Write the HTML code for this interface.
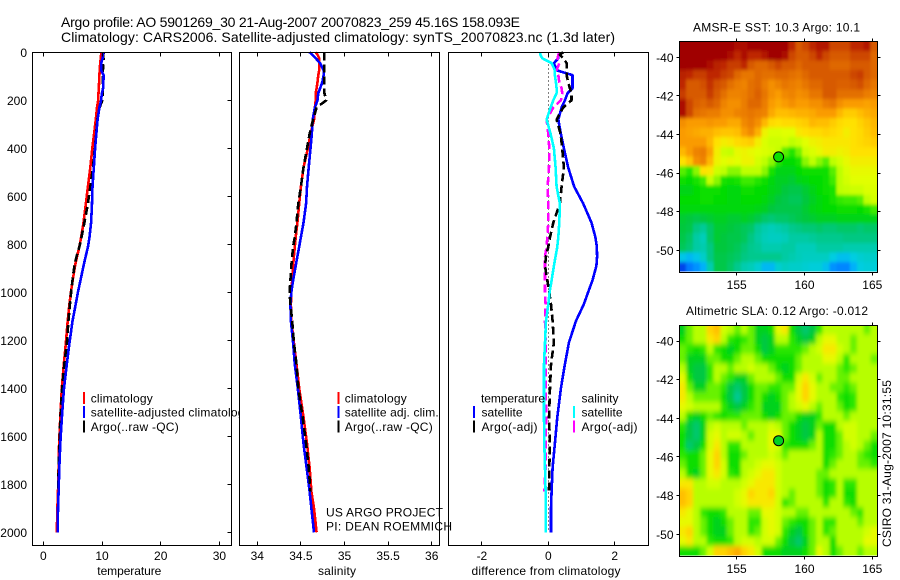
<!DOCTYPE html>
<html>
<head>
<meta charset="utf-8">
<title>Argo profile 5901269_30</title>
<style>
html,body{margin:0;padding:0;background:#fff;width:900px;height:580px;overflow:hidden}
svg{display:block}
text{font-family:"Liberation Sans",sans-serif;font-size:12px;fill:#000}
.title{font-size:14px}
</style>
</head>
<body>
<svg id="chart" xmlns="http://www.w3.org/2000/svg" width="900" height="580" viewBox="0 0 900 580">
<defs>
<filter id="sstSmooth" filterUnits="userSpaceOnUse" x="640" y="0" width="260" height="310"><feGaussianBlur stdDeviation="1.3 1.8"/></filter>
<filter id="slaSmooth" filterUnits="userSpaceOnUse" x="640" y="290" width="260" height="290"><feGaussianBlur stdDeviation="1.9 2.7"/></filter>
<clipPath id="sstClip"><rect x="679.5" y="41.5" width="198" height="230"/></clipPath>
<clipPath id="slaClip"><rect x="679.5" y="325.5" width="198" height="230"/></clipPath>
</defs>
<rect x="0" y="0" width="900" height="580" fill="#fff"/>
<text class="title" x="61" y="27" textLength="459" lengthAdjust="spacing">Argo profile: AO 5901269_30 21-Aug-2007 20070823_259 45.16S 158.093E</text>
<text class="title" x="61" y="42" textLength="554" lengthAdjust="spacing">Climatology: CARS2006. Satellite-adjusted climatology: synTS_20070823.nc (1.3d later)</text>
</svg>
<script>
var depths = [0,10,25,45,75,95,125,150,170,200,230,280,340,400,480,560,630,710,770,810,850,890,950,1000,1050,1120,1210,1300,1400,1520,1630,1730,1830,1900,2000];
var climT = [9.85,9.85,9.8,9.7,9.6,9.55,9.5,9.45,9.4,9.35,9.15,8.95,8.65,8.35,8,7.6,7.25,6.85,6.45,6.15,5.75,5.4,5,4.7,4.45,4.15,3.85,3.5,3.15,2.9,2.7,2.6,2.5,2.4,2.3];
var satT = [10.2,10.15,10.1,9.87,9.85,10.28,10.23,10.18,9.98,9.85,9.55,9.25,9.03,8.82,8.6,8.38,8.3,8.15,7.87,7.61,7.22,6.85,6.33,5.9,5.52,4.98,4.47,4,3.53,3.17,2.9,2.73,2.6,2.5,2.45];
var argoT = [10.3,10.2,10.25,10.25,10.15,10.1,10.1,10.1,10.1,10.05,9.6,9.2,9.02,8.77,8.47,8,7.6,7,6.5,6.15,5.68,5.3,4.97,4.73,4.53,4.28,4.02,3.58,3.2,2.92,2.75,2.63,2.52,null,null];
var climS = [34.67,34.69,34.71,34.71,34.71,34.7,34.69,34.68,34.67,34.67,34.66,34.65,34.61,34.58,34.53,34.5,34.48,34.46,34.44,34.43,34.42,34.41,34.4,34.39,34.385,34.39,34.42,34.45,34.48,34.53,34.57,34.6,34.62,34.65,34.68];
var satS = [34.6,34.63,34.67,34.72,34.76,34.76,34.745,34.72,34.7,34.69,34.66,34.635,34.625,34.61,34.59,34.57,34.56,34.53,34.5,34.48,34.46,34.44,34.41,34.39,34.38,34.385,34.41,34.43,34.465,34.5,34.53,34.565,34.6,34.62,34.65];
var argoS = [34.77,34.77,34.77,34.77,34.77,34.77,34.77,34.77,34.77,34.79,34.68,34.64,34.6,34.57,34.53,34.5,34.47,34.45,34.43,34.41,34.4,34.39,34.38,34.37,34.38,34.4,34.42,34.45,34.47,34.52,34.56,34.59,34.61,null,null];
var diffSatT = [0.35,0.3,0.3,0.17,0.25,0.73,0.73,0.73,0.58,0.5,0.4,0.3,0.38,0.47,0.6,0.78,1.05,1.3,1.42,1.46,1.47,1.45,1.33,1.2,1.07,0.83,0.62,0.5,0.38,0.27,0.2,0.13,0.1,0.08,0.08];
var diffArgoT = [0.45,0.35,0.45,0.55,0.55,0.55,0.6,0.65,0.7,0.7,0.45,0.25,0.37,0.42,0.47,0.4,0.35,0.15,0.05,0,-0.07,-0.1,-0.03,0.03,0.08,0.13,0.17,0.08,0.05,0.02,0.05,0.03,0.02,null,null];
var diffSatS = [-0.25,-0.24,-0.18,0.1,0.2,0.2,0.23,0.25,0.25,0.15,0.07,-0.05,0.07,0.17,0.22,0.25,0.35,0.33,0.3,0.27,0.22,0.17,0.1,0.04,0,-0.07,-0.1,-0.13,-0.13,-0.13,-0.12,-0.1,-0.08,-0.08,-0.08];
var diffArgoS = [0.35,0.3,0.28,0.33,0.25,0.3,0.33,0.4,0.42,0.38,0.15,-0.05,0,0.03,0.02,-0.02,0,0,-0.03,-0.05,-0.1,-0.1,-0.1,-0.1,-0.08,-0.1,-0.08,-0.08,-0.08,-0.06,-0.08,-0.08,-0.12,null,null];
var depthTicks = [0,200,400,600,800,1000,1200,1400,1600,1800,2000];
var tempTicks = [0,10,20,30];
var salTicks = [34,34.5,35,35.5,36];
var diffTicks = [-2,0,2];
var lonTicks = [155,160,165];
var latTicks = [-40,-42,-44,-46,-48,-50];
var argoLon = 158.093;
var argoLat = -45.16;
var argoSST = 10.1;
var argoSLAcm = -1.2;
var sstGrid = [
[15,15,15,15,15,15,15,15,14.8,14.8,15,15,15,15,15,15,14.5,14,14.2,14.5,14.7,14.7,14.2,14.2,14.2,14.5,14.5,14.7,14],
[15,15,15,15,15,15,15,14.8,14.5,14.8,14.5,14.5,14.7,15,15,14.8,14.2,14,14,14.2,14.5,14.2,14,14,14,14.2,14.2,14.2,13.8],
[15,15,15,15,14.8,14.6,14.5,14.3,14.3,14.5,14,13.8,13.8,14,14.2,14,14,13.8,14,14,14,14,13.8,13.8,13.8,14,14,14,13.8],
[14.6,14.5,14.3,14.3,14.5,14.5,14.3,14.2,13.8,13.6,13.6,13.8,13.7,13.7,13.8,13.8,13.7,13.6,13.8,14,14,14,14,14,14,14.2,14.3,14,13.8],
[14.5,14,14,14.1,14.4,14.1,14,13.7,13.5,13.4,13.7,13.8,13.5,13.2,13.4,13.6,13.5,13.4,13.6,13.8,13.8,14,14,13.9,13.9,14,14.1,13.8,13.6],
[14.3,14,14,14,14.3,14,13.7,13.4,13.4,13.5,13.7,13.9,13.6,13.2,13,13.3,13.4,13.2,13.3,13.6,13.6,14,14,13.7,13.7,13.7,13.7,13.5,13.4],
[14.8,14.2,13.9,13.8,14,13.8,13.4,13.2,13.2,13.5,13.8,13.8,13.5,13,12.8,13,13.2,13,13,13.2,13.2,13.5,13.6,13.2,13,13,13,12.9,13],
[14.8,14.2,13.7,13.6,13.5,13.5,13.2,13.2,13.4,13.5,13.6,13.5,13.4,12.8,12.5,12.5,12.6,12.7,12.7,12.8,13,13,13,12.6,12.3,12.3,12.5,12.7,12.8],
[13.2,13,13,13,13.1,13,13,12.8,12.8,13.3,13.5,13.2,12.6,12.1,12,12.1,12.1,12.2,12.3,12.6,12.5,12.5,12.3,12.1,12,12,12.2,12.4,12.6],
[13,12.9,12.8,12.7,12.7,12.5,12.4,12.4,12.5,13,13.3,12.7,11.7,11.4,11.4,11.5,11.5,11.9,12,12.1,12.1,12.2,12.1,12,11.8,12,12.1,12.3,12.5],
[13,13,13,13,12.6,12,11.8,11.9,12.1,12.2,12.3,11.8,11.4,11.2,11.2,11.3,11,11.2,11.5,11.7,11.8,11.9,11.9,11.9,11.9,12,12.1,12.2,12.3],
[12.6,13,13.4,13.5,12.9,11.8,11.2,11.1,11.6,11.7,11.6,11.5,11.4,11.3,11.1,10.6,10.3,10.7,11.2,11.4,11.6,11.8,11.8,11.7,11.8,12,12,12,12],
[12,12.4,13.2,13.4,12.6,11.7,11.5,11.6,11.5,11.7,11.7,11.3,11,10.8,10.3,10,10,10.2,10.8,11,10.8,10.6,11,11.3,11.6,11.8,11.8,11.8,11.8],
[10.6,10.3,10.8,12,11.9,11.2,11,10.8,10.8,11,11,11,10.8,10.2,9.8,9.8,9.8,10,10.1,10.1,10.1,10.1,10.6,11,11.4,11.6,11.6,11.6,11.6],
[10.1,10,10.2,10.5,11.1,10.8,10.2,10.1,10.2,10.5,10.5,10.3,10.1,9.9,9.7,9.7,9.6,9.8,9.9,10,10,10.1,10.5,11,11.3,11.5,11.5,11.5,11.5],
[9.8,9.8,10,10.1,10.1,10.1,10,9.9,9.9,10.1,10.1,10,10,9.8,9.7,9.5,9.4,9.4,9.6,9.8,10,10.1,10.2,11,11.1,11.2,11.2,11.4,11.4],
[10,10,10,10.1,10.1,10,10,9.9,9.9,10,10,10,9.9,9.7,9.5,9.4,9.3,9.3,9.5,9.7,9.9,10,10.2,10.4,10.5,10.5,10.6,11,11.3],
[9.9,9.9,9.9,9.9,9.9,9.9,9.9,9.9,9.9,9.9,9.9,9.8,9.7,9.5,9.4,9.4,9.4,9.4,9.6,9.8,9.9,10,10,10.1,10.1,10.1,10,10.2,10.5],
[9.6,9.5,9.4,9.5,9.6,9.7,9.7,9.6,9.6,9.7,9.6,9.4,9.2,9.1,9.2,9.2,9.3,9.4,9.5,9.6,9.7,9.7,9.7,9.8,9.8,9.8,9.8,9.8,9.8],
[9.5,9.4,9,8.8,9.2,9.6,9.6,9.5,9.4,9.3,9.2,8.8,8.6,8.5,8.6,8.7,8.9,9,9.1,9.1,9.2,9.1,9.1,9.2,9.2,9.2,9.1,9.2,9.2],
[9.4,9.2,8.7,8.5,9.2,9.6,9.5,9.4,9.4,9.3,9,8.7,8.5,8.4,8.4,8.5,8.7,8.7,8.7,8.8,8.9,8.9,8.9,8.9,9,9,9,9,9],
[9.3,9.1,8.7,8.6,9,9.5,9.5,9.4,9.3,9.1,8.9,8.8,8.6,8.6,8.6,8.7,8.7,8.5,8.5,8.5,8.7,8.7,8.7,8.7,8.6,8.6,8.6,8.6,8.6],
[7.9,7.7,7.9,8.3,9,9.4,9.4,9.3,9.2,9,8.9,8.9,8.9,8.9,8.9,8.7,8.6,8.5,8.4,8.4,8.4,8.4,8,7.8,7.8,8,8.2,8.3,8.3],
[6.7,7.1,7.3,7.6,8.6,9.4,9.4,9.2,8.9,8.6,8.5,8.2,7.7,7.7,8.2,8.4,8.3,8.3,8.2,8.1,8.1,7.8,7.3,7.2,7.2,7.6,8,8.1,8.1]
];
var slaGrid = [
[-1,2,3,3,7,8,4,3,2,3,2,-1,-1,0,5,6,0,-2,-3,-2,1,3,3,3,3,3,3,2,3],
[0,2,3,3,6,7,3,1,0,1,2,-1,-2,-1,3,3,1,-1,-2,-1,3,5,5,3,3,2,3,3,3],
[2,1,0,1,3,1,0,-1,0,2,2,0,-2,-1,1,1,1,1,2,3,4,6,6,4,3,2,3,3,3],
[2,-1,-1,-1,2,2,0,0,2,3,3,2,0,0,0,0,0,2,3,3,3,5,5,3,1,3,3,3,2],
[3,-1,-2,-2,1,3,3,2,3,3,4,3,3,2,0,-1,0,2,3,3,3,3,3,2,1,2,3,3,3],
[5,0,-2,-2,1,3,2,1,-1,-1,2,3,3,3,2,0,0,4,6,4,2,3,3,2,2,3,3,3,3],
[6,2,-1,-1,2,2,1,-2,-3,-2,0,2,2,1,1,2,2,5,7,5,3,3,2,2,1,2,3,3,3],
[6,3,2,2,2,2,0,-2,-4,-2,0,2,0,-1,0,2,3,5,7,5,3,3,3,1,0,1,3,3,3],
[5,4,3,3,3,3,1,-1,-2,-1,1,2,-1,-1,-1,2,3,4,5,3,2,3,3,2,0,1,3,3,3],
[3,0,-1,0,2,1,0,1,1,2,2,2,0,-1,0,2,2,0,-1,-1,1,3,3,3,2,3,3,3,3],
[1,-2,-3,-1,3,4,3,3,3,2,3,3,3,4,3,2,0,-1,-2,-1,2,0,0,3,4,4,3,3,3],
[0,-2,-3,-1,4,5,3,4,4,3,2,3,3,5,5,2,0,-1,-2,-1,3,0,0,2,4,4,3,3,2],
[0,-3,-2,0,4,6,3,1,1,3,3,3,3,5,4,1,0,0,0,2,3,0,0,2,3,4,3,2,0],
[1,0,0,2,5,7,3,0,0,2,3,3,3,4,3,2,3,3,3,3,3,0,1,2,3,3,2,1,0],
[2,0,0,2,5,7,4,0,0,3,3,4,5,5,4,3,3,3,3,3,3,0,2,3,3,3,2,2,1],
[3,0,-1,2,5,6,4,1,0,3,4,5,6,6,4,3,3,3,3,3,2,2,3,3,3,3,3,3,3],
[6,6,3,3,4,4,3,3,3,4,5,6,6,6,4,3,3,3,3,3,2,0,1,3,1,1,3,3,3],
[8,7,3,3,3,3,3,3,4,5,7,6,6,7,4,3,2,3,3,3,2,0,1,3,0,0,3,3,3],
[8,7,3,3,3,3,3,3,4,5,6,6,6,6,4,1,2,3,3,3,3,1,3,3,1,0,3,3,3],
[6,5,3,1,0,0,1,3,3,3,2,2,5,5,4,3,3,2,2,3,3,3,3,3,3,2,1,3,3],
[5,5,3,2,0,-1,0,2,3,3,1,1,4,5,4,2,1,0,0,2,3,1,1,3,3,3,2,3,3],
[6,7,3,2,0,-1,-1,2,3,3,1,2,4,5,4,1,-1,-2,0,2,3,1,2,3,3,3,3,4,5],
[5,6,3,3,1,0,0,1,3,4,4,3,4,4,2,0,-2,-3,-1,2,3,3,0,3,3,3,3,5,5],
[0,0,0,2,4,7,7,8,9,7,6,4,0,0,0,-1,-1,-1,0,2,5,3,0,2,3,3,2,3,3]
];

var svg = document.getElementById('chart');
var NS = 'http://www.w3.org/2000/svg';
function mk(tag, attrs, parent) {
  var e = document.createElementNS(NS, tag);
  for (var k in attrs) { e.setAttribute(k, attrs[k]); }
  (parent || svg).appendChild(e);
  return e;
}
function label(str, x, y, anchor, parent) {
  var e = mk('text', {x: x, y: y, 'text-anchor': anchor || 'start'}, parent);
  e.textContent = str;
  return e;
}
function depthY(d) { return 52.3 + d * 0.24; }
function tempX(t) { return 43.3 + t * 5.87; }
function salX(s) { return 257.3 + (s - 34) * 87.2; }
function diffX(v) { return 548.3 + v * 33.2; }
function lonX(lon) { return 736.7 + (lon - 155) * 13.56; }
function lat1Y(lat) { return 57.3 + (-40 - lat) * 19.3; }
function lat2Y(lat) { return 341 + (-40 - lat) * 19.33; }
function snap(v) { return Math.floor(v) + 0.5; }

function frame(left, right, top, bottom, name) {
  var bg = mk('rect', {x: left, y: top, width: right - left, height: bottom - top, fill: '#fff'});
  
  
}
function border(left, right, top, bottom, name) {
  var b = mk('rect', {x: left, y: top, width: right - left, height: bottom - top, fill: 'none', stroke: '#000', 'stroke-width': 1, 'shape-rendering': 'crispEdges'});
  
  
}
function tickLine(x1, y1, x2, y2) {
  var t = mk('line', {x1: x1, y1: y1, x2: x2, y2: y2, stroke: '#000', 'stroke-width': 1, 'shape-rendering': 'crispEdges'});
  
  
}
function xAxis(ticks, scale, top, bottom) {
  ticks.forEach(function (v) {
    var x = snap(scale(v));
    tickLine(x, top, x, top + 4);
    tickLine(x, bottom, x, bottom - 4);
    var l = label(String(v), scale(v), 560, 'middle');
    
    
  });
}
function series(vals, scale, color, dash, name) {
  var pts = [];
  depths.forEach(function (d, i) {
    if (vals[i] !== null) { pts.push(scale(vals[i]).toFixed(1) + ',' + depthY(d).toFixed(1)); }
  });
  var attrs = {points: pts.join(' '), fill: 'none', stroke: color, 'stroke-width': 2.6, 'shape-rendering': 'crispEdges', 'stroke-linejoin': 'round'};
  if (dash) { attrs['stroke-dasharray'] = dash; }
  var p = mk('polyline', attrs);
  
  
}
function legendEntry(markX, textX, y, color, str, width) {
  if (color) {
    var m = mk('rect', {x: markX, y: y - 6, width: 2, height: 12, fill: color, 'shape-rendering': 'crispEdges'});
    
    
  }
  var t = label(str, textX, y + 4.5);
  t.setAttribute('textLength', width);
  
  
}

/* temperature panel */
frame(32.5, 231.5, 52.5, 545.5, 'temperature-panel');
series(climT, tempX, '#f00', null, 'temperature-climatology-line');
series(argoT, tempX, '#000', '8 4', 'temperature-argo-line');
series(satT, tempX, '#00f', null, 'temperature-satellite-line');
legendEntry(83, 90.7, 398, '#f00', 'climatology', 62);
legendEntry(83, 90.7, 412, '#00f', 'satellite-adjusted climatology', 160);
legendEntry(83, 90.7, 426.5, '#000', 'Argo(..raw -QC)', 88);
xAxis(tempTicks, tempX, 52.5, 545.5);
depthTicks.forEach(function (d) {
  var y = snap(depthY(d));
  tickLine(231.5, y, 227.5, y);
  var l = label(String(d), 27, depthY(d) + 4.5, 'end');
  
  
});
border(32.5, 231.5, 52.5, 545.5, 'temperature-panel');
var xl1 = label('temperature', 129.3, 575, 'middle');
xl1.setAttribute('textLength', '64');



/* salinity panel */
frame(239.5, 439.5, 52.5, 545.5, 'salinity-panel');
series(climS, salX, '#f00', null, 'salinity-climatology-line');
series(satS, salX, '#00f', null, 'salinity-satellite-line');
series(argoS, salX, '#000', '8 4', 'salinity-argo-line');
legendEntry(337.5, 344.7, 398, '#f00', 'climatology', 62);
legendEntry(337.5, 344.7, 412, '#00f', 'satellite adj. clim.', 94);
legendEntry(337.5, 344.7, 426.5, '#000', 'Argo(..raw -QC)', 88);
xAxis(salTicks, salX, 52.5, 545.5);
border(239.5, 439.5, 52.5, 545.5, 'salinity-panel');
var xl2 = label('salinity', 337, 575, 'middle');
xl2.setAttribute('textLength', '38');



/* difference panel */
frame(448.5, 648.5, 52.5, 545.5, 'difference-panel');
var zero = mk('line', {x1: snap(diffX(0)), y1: 52.5, x2: snap(diffX(0)), y2: depthY(2000), stroke: '#000', 'stroke-width': 1, 'stroke-dasharray': '1 3', 'shape-rendering': 'crispEdges'});


series(diffSatT, diffX, '#00f', null, 'diff-temperature-satellite-line');
series(diffArgoS, diffX, '#f0f', '8 4', 'diff-salinity-argo-line');
series(diffArgoT, diffX, '#000', '8 4', 'diff-temperature-argo-line');
series(diffSatS, diffX, '#0ff', null, 'diff-salinity-satellite-line');
legendEntry(473, 481, 398, null, 'temperature', 64);
legendEntry(473, 481.5, 412, '#00f', 'satellite', 41);
legendEntry(473, 481.5, 426.5, '#000', 'Argo(-adj)', 56);
legendEntry(573, 581.5, 398, null, 'salinity', 37);
legendEntry(573, 581.5, 412, '#0ff', 'satellite', 41);
legendEntry(573, 581.5, 426.5, '#f0f', 'Argo(-adj)', 56);
xAxis(diffTicks, diffX, 52.5, 545.5);
border(448.5, 648.5, 52.5, 545.5, 'difference-panel');
var xl3 = label('difference from climatology', 546, 575, 'middle');
xl3.setAttribute('textLength', '149');



var pi1 = label('US ARGO PROJECT', 326, 516.5);
pi1.setAttribute('textLength', '117');


var pi2 = label('PI: DEAN ROEMMICH', 326, 530.5);
pi2.setAttribute('textLength', '126');



/* maps */
var colorStops = [[6.5,0,40,220],[7,0,110,255],[7.5,0,170,255],[8,0,205,225],[8.5,0,205,185],[9,0,200,130],[9.5,0,200,60],[10,0,220,0],[10.5,60,235,0],[11,190,255,0],[11.5,225,255,0],[12,255,225,0],[12.5,255,190,0],[13,250,155,0],[13.5,235,125,0],[14,215,90,0],[14.5,190,40,0],[15,160,0,0]];
function colorAt(v) {
  if (v <= colorStops[0][0]) { return 'rgb(0,40,220)'; }
  for (var i = 1; i < colorStops.length; i++) {
    if (v <= colorStops[i][0]) {
      var a = colorStops[i - 1], b = colorStops[i], f = (v - a[0]) / (b[0] - a[0]);
      return 'rgb(' + Math.round(a[1] + (b[1] - a[1]) * f) + ',' + Math.round(a[2] + (b[2] - a[2]) * f) + ',' + Math.round(a[3] + (b[3] - a[3]) * f) + ')';
    }
  }
  return 'rgb(160,0,0)';
}
function sstColor(v) { return colorAt(v); }
function slaColor(cm) { return colorAt(9.7 + (cm + 1.2) / 3.3); }
var lonStart = 150.77, lonStep = 14.6 / 29;

function drawMap(grid, latY, latTop, latBottom, colorFn, top, bottom, tickBase, dotValue, name, clipId, filterId) {
  frame(679.5, 877.5, top, bottom, name);
  var clip = mk('g', {'clip-path': 'url(#' + clipId + ')'});
  
  
  var heat = mk('g', {filter: 'url(#' + filterId + ')'}, clip);
  
  
  var latStep = (latTop - latBottom) / grid.length;
  grid.forEach(function (row, r) {
    row.forEach(function (v, c) {
      var x0 = lonX(lonStart + c * lonStep), x1 = lonX(lonStart + (c + 1) * lonStep) + 0.4;
      var y0 = latY(latTop - r * latStep), y1 = latY(latTop - (r + 1) * latStep) + 0.4;
      if (c === 0) { x0 -= 12; }
      if (c === row.length - 1) { x1 += 12; }
      if (r === 0) { y0 -= 12; }
      if (r === grid.length - 1) { y1 += 12; }
      var cell = mk('rect', {x: x0.toFixed(2), y: y0.toFixed(2), width: (x1 - x0).toFixed(2), height: (y1 - y0).toFixed(2), fill: colorFn(v), 'shape-rendering': 'crispEdges'}, heat);
      
      
    });
  });
  lonTicks.forEach(function (lon) {
    var x = snap(lonX(lon));
    tickLine(x, top, x, top - 3);
    tickLine(x, bottom, x, bottom + 3);
    var l = label(String(lon), lonX(lon), tickBase, 'middle');
    
    
  });
  latTicks.forEach(function (lat) {
    var y = snap(latY(lat));
    tickLine(679.5, y, 676.5, y);
    tickLine(877.5, y, 880.5, y);
    var l = label(String(lat), 673.5, latY(lat) + 4.5, 'end');
    
    
  });
  border(679.5, 877.5, top, bottom, name);
  var dot = mk('circle', {cx: lonX(argoLon).toFixed(1), cy: latY(argoLat).toFixed(1), r: 5, fill: colorFn(dotValue), stroke: '#000', 'stroke-width': 1});
  
  
}
drawMap(sstGrid, lat1Y, -39.17, -51.1, sstColor, 41.5, 272.5, 289, argoSST, 'sst-map', 'sstClip', 'sstSmooth');
drawMap(slaGrid, lat2Y, -39.17, -51.1, slaColor, 325.5, 556.5, 573, argoSLAcm, 'sla-map', 'slaClip', 'slaSmooth');

var t1 = label('AMSR-E SST: 10.3 Argo: 10.1', 693, 31.5);
t1.setAttribute('textLength', '167');


var t2 = label('Altimetric SLA: 0.12 Argo: -0.012', 686, 315);
t2.setAttribute('textLength', '182');


var stamp = label('CSIRO 31-Aug-2007 10:31:55', 0, 0);
stamp.setAttribute('transform', 'translate(891,547) rotate(-90)');
stamp.setAttribute('textLength', '167');


</script>
</body>
</html>
